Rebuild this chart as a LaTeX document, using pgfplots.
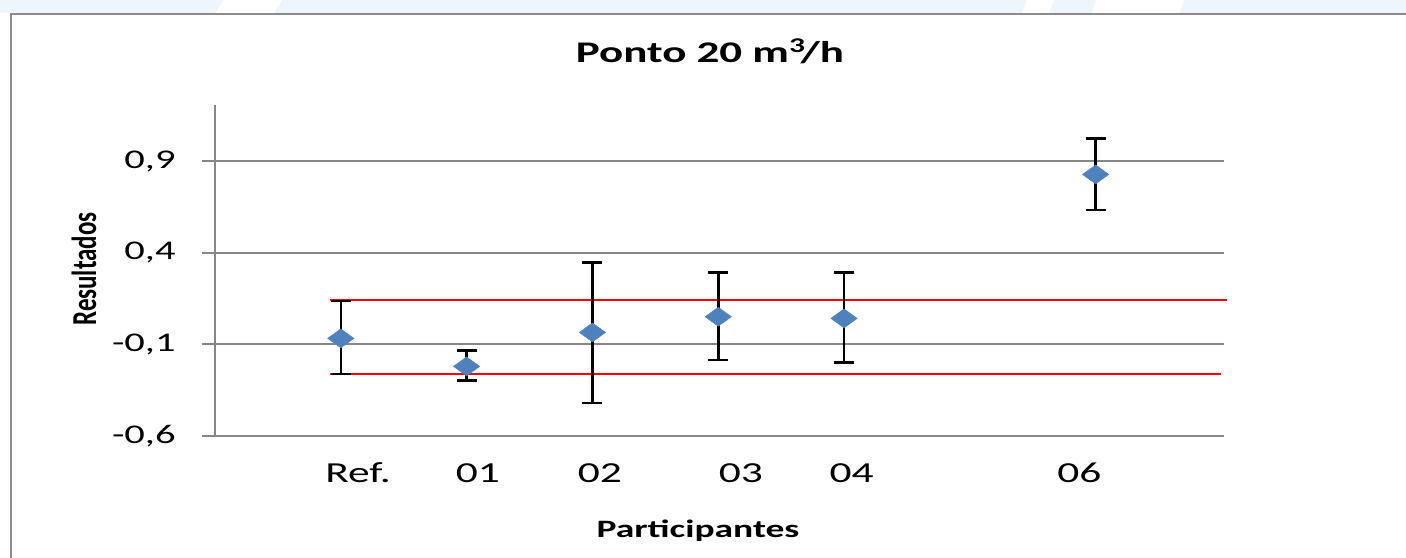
\documentclass[border=0pt]{standalone}
\usepackage{pgfplots}
\pgfplotsset{compat=1.18}
\usepackage{fontspec}
\setmainfont[FakeStretch=1.5]{Carlito}
\newfontfamily\plainfont{Carlito}
\definecolor{gridgray}{RGB}{134,134,134}
\definecolor{framegray}{RGB}{140,140,140}
\definecolor{markblue}{RGB}{79,129,189}
\definecolor{stripblue}{RGB}{238,245,253}
\pgfplotstableread{
x y ep em
1 -0.067 0.203 0.195
2 -0.220 0.087 0.076
3 -0.0345 0.383 0.385
4 0.051 0.240 0.237
5 0.042 0.249 0.240
7 0.828 0.196 0.195
}\results
\begin{document}
\begin{tikzpicture}
% pixel (px,py) -> ((px-215)*0.5pt, (436-py)*0.5pt)
\useasboundingbox (-107.5pt,-60.5pt) rectangle (595.5pt,218pt);
\fill[white] (-107.5pt,-60.5pt) rectangle (595.5pt,218pt);
% top strip
\fill[stripblue] (-107.5pt,211.5pt) rectangle (595.5pt,218pt);
\fill[white] (0pt,211.5pt) -- (4.5pt,218pt) -- (33.5pt,218pt) -- (29.5pt,211.5pt) -- cycle;
\fill[white] (403.5pt,211.5pt) -- (406pt,218pt) -- (419.5pt,218pt) -- (417pt,211.5pt) -- cycle;
\fill[white] (438.5pt,211.5pt) -- (440.5pt,218pt) -- (484.5pt,218pt) -- (482.5pt,211.5pt) -- cycle;
% outer frame
\draw[framegray, line width=1.1pt] (-102pt,-61pt) -- (-102pt,211pt) -- (596pt,211pt);
\begin{axis}[
  at={(0pt,0pt)}, anchor=south west,
  scale only axis,
  width=504.5pt, height=165.5pt,
  xmin=0, xmax=8.02,
  ymin=-0.6, ymax=1.207,
  clip=false,
  axis x line=bottom, axis y line=left,
  axis line style={draw=gridgray, line width=1pt, -},
  ymajorgrids,
  grid style={gridgray, line width=1pt},
  ytick={-0.6,-0.1,0.4,0.9},
  yticklabel style={font=\fontsize{13.5}{15}\selectfont, anchor=east, inner sep=0pt, xshift=-13pt,
    /pgf/number format/use comma, /pgf/number format/fixed,
    /pgf/number format/fixed zerofill, /pgf/number format/precision=1,
    /pgf/number format/assume math mode=true},
  ytick style={draw=gridgray, line width=1pt},
  tick align=outside,
  major tick length=6.5pt,
  xtick={1.137,2.09,3.06,4.18,5.06,6.87},
  xticklabels={Ref.,01,02,03,04,06},
  xtick style={draw=none},
  xticklabel style={font=\fontsize{14.5}{16}\selectfont, anchor=base, inner sep=0pt, yshift=-16.5pt},
  xlabel={\bfseries Participantes},
  xlabel style={font=\fontsize{12.5}{15}\selectfont, at={(rel axis cs:0.4787,-0.308)}, anchor=base, inner sep=0pt},
  ylabel={\scalebox{1}[1.4]{\plainfont\bfseries\fontsize{12.5}{15}\selectfont Resultados}},
  ylabel style={at={(rel axis cs:-0.1298,0.5045)}, anchor=center, rotate=0, inner sep=0pt},
]
\addplot[red, line width=1pt] coordinates {(0.914,0.140) (8.04,0.140)};
\addplot[red, line width=1pt] coordinates {(0.914,-0.264) (8.0,-0.264)};
\addplot[only marks, mark=diamond*, mark size=4.75pt,
  mark options={xscale=1.85, fill=markblue, draw=markblue, line width=0.2pt},
  error bars/.cd, y dir=both, y explicit,
  error bar style={black, line width=1.3pt},
  error mark options={rotate=90, black, mark size=5pt, line width=1.3pt}]
  table[x=x, y=y, y error plus=ep, y error minus=em] {\results};
\node[anchor=base, inner sep=0pt, font=\fontsize{15}{18}\selectfont\bfseries]
  at (rel axis cs:0.4906,1.127) {Ponto 20 m\textsuperscript{3}\kern-0.18em/h};
\end{axis}
\end{tikzpicture}
\end{document}
